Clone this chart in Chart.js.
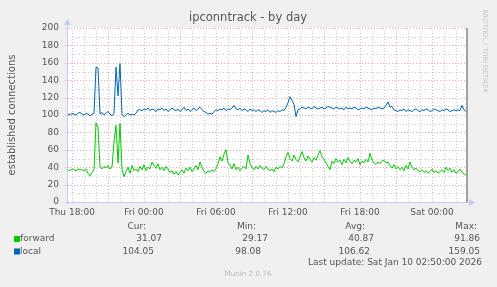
<!DOCTYPE html>
<html>
<head>
<meta charset="utf-8">
<script src="https://cdn.jsdelivr.net/npm/chart.js@4.4.0/dist/chart.umd.min.js"></script>
<style>
html, body { margin: 0; padding: 0; background: #f0f0f0; }
</style>
</head>
<body>
<canvas id="canvas1" width="497" height="287"></canvas>
<script>
'use strict';

// samples every 10 minutes, hours counted from Thu 18:00
const startHour = -1 / 3;
const stepHour = 1 / 6;

const xTicks = [0, 6, 12, 18, 24, 30];
const xTickLabels = ['Thu 18:00', 'Fri 00:00', 'Fri 06:00', 'Fri 12:00', 'Fri 18:00', 'Sat 00:00'];

const forward = [
    37, 36, 38, 37, 36, 38, 37, 37, 36, 38,
    33, 30, 34, 37, 91, 86,
    40, 38, 41, 39, 42, 38, 40,
    69, 88, 45, 90,
    38, 29, 35, 40, 33, 42, 36,
    38, 35, 41, 37, 43, 36, 40, 38, 46, 42, 39, 44, 37, 40, 36, 41, 38,
    34, 36, 32, 35, 31, 34,
    37, 33, 39, 36, 40, 35, 38, 42, 37, 46,
    40, 35, 33, 36, 34, 37, 35,
    38, 44, 52, 47,
    55, 60, 45,
    42, 38, 44, 37, 40, 36, 39, 41, 38,
    54, 44,
    40, 37, 41, 38, 42, 39, 37, 41, 38,
    36, 38, 35, 40, 38, 41, 39, 44, 52, 57,
    50, 47, 54, 49, 46, 52, 58, 51, 47, 53, 49, 46, 51, 48, 54, 59, 52, 49, 45, 41, 37,
    47, 44, 50, 46, 48, 43, 49, 45, 51, 47, 44, 48, 46, 50, 43, 47, 45, 49, 46,
    56, 48,
    45, 43, 46, 44, 47, 48, 45, 46,
    42, 39, 43, 38, 41, 37, 40, 36, 42, 38, 46, 40, 37, 39, 36,
    35, 37, 34, 36, 33, 35, 38, 34, 36, 33, 35, 37, 34, 40, 36, 39, 34, 37, 33, 35, 38, 34, 32, 31
];

const local = [
    101, 100, 102, 101, 100, 102, 103, 101, 100, 102, 101, 99, 101, 102,
    155, 154,
    101, 103, 100, 102, 104, 101, 99, 102,
    155, 122, 159,
    101, 98, 100, 102, 100, 101, 100,
    102, 106,
    106, 105, 107, 106, 108, 105, 107, 106, 104, 107, 106, 108, 105, 107, 104, 106,
    108, 106, 105, 107, 104, 106, 109, 105, 107, 104, 106, 108, 105, 107, 109,
    106, 104, 103, 101, 102, 101, 104, 106, 105, 107, 106, 108, 105, 107, 106, 108, 111,
    107, 106, 108, 105, 107, 106, 104, 107, 105, 106, 104, 106, 105, 103, 105, 104, 106,
    103, 105, 104, 103, 105, 104, 106, 105, 109, 114,
    121, 117, 112, 98, 106,
    107, 109, 108, 107, 109, 108, 107, 110, 108, 107, 108, 109, 107, 108, 110, 109,
    108, 107, 109, 108, 107, 108, 106, 109, 107, 108, 107, 109, 108, 106, 107, 108,
    107, 109, 108, 107, 106, 108, 107, 109, 108, 107, 108,
    111, 115, 109, 110, 106,
    105, 104, 106, 105, 107, 104, 106, 105, 104, 106, 107, 105, 104, 106, 105, 107,
    106, 104, 105, 107, 106, 105, 104, 106, 105, 107, 106, 104, 105, 106, 105, 106,
    105, 111, 106, 104
];

const seriesNames = ['forward', 'local'];
const seriesColors = ['#00cc00', '#0066b3'];
const statHeads = ['Cur:', 'Min:', 'Avg:', 'Max:'];
const forwardStats = ['31.07', '29.17', '40.87', '91.86'];
const localStats = ['104.05', '98.08', '106.62', '159.05'];

const FONT = '"DejaVu Sans", Verdana, sans-serif';

function toPoints(values) {
    return values.map((v, i) => ({ x: startHour + i * stepHour, y: v }));
}

const munin = {
    id: 'munin',
    beforeDraw(chart) {
        let ctx = chart.ctx;
        let a = chart.chartArea;
        ctx.save();
        ctx.fillStyle = '#f0f0f0';
        ctx.fillRect(0, 0, chart.width, chart.height);
        ctx.fillStyle = '#ffffff';
        ctx.fillRect(a.left, a.top, a.right - a.left, a.bottom - a.top);
        ctx.restore();
    },
    beforeDatasetsDraw(chart) {
        let ctx = chart.ctx;
        let a = chart.chartArea;
        let xs = chart.scales.x;
        let ys = chart.scales.y;
        let red = '#eaa8a8';
        let grey = '#cccccc';
        ctx.save();
        ctx.lineWidth = 1;
        ctx.setLineDash([1, 2]);
        // vertical: every hour, red every 3 hours
        for (let h = 0; h <= 32; h++) {
            let px = Math.round(xs.getPixelForValue(h)) + 0.5;
            ctx.strokeStyle = h % 3 == 0 ? red : grey;
            ctx.beginPath();
            ctx.moveTo(px, a.bottom);
            ctx.lineTo(px, a.top);
            ctx.stroke();
        }
        // horizontal: every 10, red every 20
        for (let v = 10; v <= 200; v += 10) {
            let py = Math.round(ys.getPixelForValue(v)) + 0.5;
            ctx.strokeStyle = v % 20 == 0 ? red : grey;
            ctx.beginPath();
            ctx.moveTo(v % 20 == 0 ? a.left - 2 : a.left, py);
            ctx.lineTo(a.right, py);
            ctx.stroke();
        }
        ctx.restore();
    },
    afterDraw(chart) {
        let ctx = chart.ctx;
        let a = chart.chartArea;
        ctx.save();

        // right edge
        ctx.fillStyle = '#a0a0a0';
        ctx.fillRect(a.right - 1, a.top, 2, a.bottom - a.top);

        // axes with arrows
        ctx.strokeStyle = '#c4cbf2';
        ctx.fillStyle = '#c4cbf2';
        ctx.lineWidth = 1;
        ctx.beginPath();
        ctx.moveTo(a.left + 0.5, a.bottom + 2);
        ctx.lineTo(a.left + 0.5, a.top - 4);
        ctx.moveTo(a.left - 2, a.bottom + 0.5);
        ctx.lineTo(a.right + 3, a.bottom + 0.5);
        ctx.stroke();
        ctx.beginPath();
        ctx.moveTo(a.left - 3, a.top - 3);
        ctx.lineTo(a.left + 4, a.top - 3);
        ctx.lineTo(a.left + 0.5, a.top - 9);
        ctx.closePath();
        ctx.fill();
        ctx.beginPath();
        ctx.moveTo(a.right + 2, a.bottom - 3);
        ctx.lineTo(a.right + 2, a.bottom + 4);
        ctx.lineTo(a.right + 8, a.bottom + 0.5);
        ctx.closePath();
        ctx.fill();

        // title
        ctx.fillStyle = '#555555';
        ctx.textBaseline = 'middle';
        ctx.textAlign = 'center';
        ctx.font = '11.5px ' + FONT;
        ctx.fillText('ipconntrack - by day', 248, 18);

        // y axis title
        ctx.save();
        ctx.translate(12, 115);
        ctx.rotate(-Math.PI / 2);
        ctx.font = '10px ' + FONT;
        ctx.fillText('established connections', 0, 0);
        ctx.restore();

        // rrdtool credit
        ctx.save();
        ctx.translate(485, 51);
        ctx.rotate(Math.PI / 2);
        ctx.fillStyle = '#c4c4c4';
        ctx.font = '6.5px ' + FONT;
        ctx.fillText('RRDTOOL / TOBI OETIKER', 0, 0);
        ctx.restore();

        // legend
        ctx.font = '9px ' + FONT;
        ctx.fillStyle = '#555555';
        ctx.textAlign = 'right';
        let headRight = [146, 256, 365, 477];
        let fwdRight = [162, 268, 374, 480];
        let locRight = [154, 261, 370, 480];
        for (let i = 0; i < 4; i++) {
            ctx.fillText(statHeads[i], headRight[i], 227);
            ctx.fillText(forwardStats[i], fwdRight[i], 239);
            ctx.fillText(localStats[i], locRight[i], 251.5);
        }
        ctx.textAlign = 'left';
        ctx.fillText(seriesNames[0], 20, 239);
        ctx.fillText(seriesNames[1], 20, 251.5);
        ctx.fillStyle = seriesColors[0];
        ctx.fillRect(14, 236, 6, 6);
        ctx.fillStyle = seriesColors[1];
        ctx.fillRect(14, 248.5, 6, 6);

        ctx.fillStyle = '#555555';
        ctx.textAlign = 'right';
        ctx.fillText('Last update: Sat Jan 10 02:50:00 2026', 482, 263);

        ctx.fillStyle = '#bbbbbb';
        ctx.textAlign = 'center';
        ctx.font = '7.2px ' + FONT;
        ctx.fillText('Munin 2.0.76', 248, 274);

        ctx.restore();
    }
};

let chart1 = new Chart(document.querySelector('#canvas1'), {
    type: 'line',
    data: {
        datasets: [
            {
                label: seriesNames[0],
                data: toPoints(forward),
                borderColor: seriesColors[0],
                borderWidth: 1,
                pointRadius: 0,
                tension: 0,
            },
            {
                label: seriesNames[1],
                data: toPoints(local),
                borderColor: seriesColors[1],
                borderWidth: 1,
                pointRadius: 0,
                tension: 0,
            },
        ],
    },
    options: {
        responsive: false,
        animation: false,
        events: [],
        layout: { padding: { left: 0, top: 28, right: 30, bottom: 0 } },
        plugins: {
            legend: { display: false },
            tooltip: { enabled: false },
        },
        scales: {
            x: {
                type: 'linear',
                min: -5 / 12,
                max: 33 + 1 / 3 - 5 / 12,
                afterBuildTicks: s => { s.ticks = xTicks.map(v => ({ value: v })); },
                afterFit: s => { s.height = 85; },
                grid: { display: false, drawTicks: false, tickLength: 0 },
                border: { display: false },
                ticks: {
                    autoSkip: false,
                    maxRotation: 0,
                    padding: 5,
                    color: '#555555',
                    font: { family: FONT, size: 9 },
                    callback: v => xTickLabels[xTicks.indexOf(v)],
                },
            },
            y: {
                min: 0,
                max: 200,
                afterFit: s => { s.width = 67; },
                grid: { display: false, drawTicks: false, tickLength: 0 },
                border: { display: false },
                ticks: {
                    stepSize: 20,
                    padding: 8,
                    color: '#555555',
                    font: { family: FONT, size: 9 },
                },
            },
        },
    },
    plugins: [munin],
});
</script>
</body>
</html>
